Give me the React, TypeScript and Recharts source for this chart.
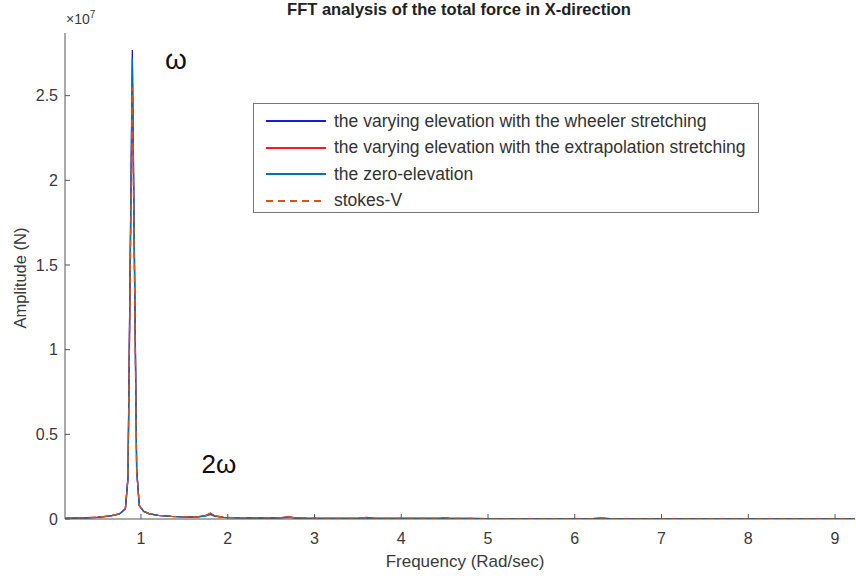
import { LineChart, Line, XAxis, YAxis } from 'recharts'

// frequency grid (rad/s) and FFT amplitudes in units of 1e7 N
const freqs = [
  0.124, 0.3, 0.5, 0.65, 0.75, 0.82, 0.85, 0.9, 0.95, 0.98, 1.03, 1.1, 1.2, 1.35, 1.5, 1.65,
  1.75, 1.8, 1.85, 1.95, 2.1, 2.3, 2.5, 2.62, 2.7, 2.78, 2.9, 3.1, 3.3, 3.5, 3.6, 3.7,
  3.9, 4.1, 4.3, 4.45, 4.5, 4.55, 4.8, 5.0, 5.2, 5.4, 5.6, 5.8, 6.0, 6.2, 6.3, 6.4,
  6.6, 6.8, 7.0, 7.2, 7.4, 7.6, 7.8, 8.0, 8.2, 8.4, 8.6, 8.8, 9.0, 9.23,
]
const wheeler = [
  0.004, 0.006, 0.01, 0.018, 0.03, 0.06, 0.25, 2.77, 0.3, 0.08, 0.045, 0.03, 0.022, 0.016, 0.012, 0.012,
  0.02, 0.032, 0.018, 0.01, 0.008, 0.007, 0.006, 0.008, 0.012, 0.007, 0.005, 0.004, 0.004, 0.004, 0.008, 0.004,
  0.003, 0.003, 0.003, 0.004, 0.006, 0.004, 0.003, 0.002, 0.002, 0.002, 0.002, 0.002, 0.002, 0.002, 0.005, 0.002,
  0.002, 0.002, 0.002, 0.002, 0.002, 0.002, 0.002, 0.002, 0.002, 0.002, 0.002, 0.002, 0.002, 0.002,
]
const extrapolation = [
  0.004, 0.006, 0.011, 0.019, 0.03, 0.06, 0.24, 2.6, 0.29, 0.08, 0.046, 0.031, 0.022, 0.016, 0.012, 0.013,
  0.021, 0.034, 0.019, 0.01, 0.008, 0.007, 0.006, 0.008, 0.013, 0.007, 0.005, 0.004, 0.004, 0.004, 0.009, 0.004,
  0.003, 0.003, 0.003, 0.004, 0.007, 0.004, 0.003, 0.002, 0.002, 0.002, 0.002, 0.002, 0.002, 0.002, 0.005, 0.002,
  0.002, 0.002, 0.002, 0.002, 0.002, 0.002, 0.002, 0.002, 0.002, 0.002, 0.002, 0.002, 0.002, 0.002,
]
const zeroElevation = [
  0.004, 0.006, 0.01, 0.018, 0.029, 0.058, 0.24, 2.72, 0.29, 0.078, 0.044, 0.029, 0.021, 0.015, 0.011, 0.011,
  0.018, 0.026, 0.016, 0.009, 0.007, 0.006, 0.005, 0.007, 0.01, 0.006, 0.004, 0.004, 0.003, 0.003, 0.007, 0.003,
  0.003, 0.003, 0.003, 0.003, 0.005, 0.003, 0.002, 0.002, 0.002, 0.002, 0.002, 0.002, 0.002, 0.002, 0.004, 0.002,
  0.002, 0.002, 0.002, 0.002, 0.002, 0.002, 0.002, 0.002, 0.002, 0.002, 0.002, 0.002, 0.002, 0.002,
]
const stokes = [
  0.004, 0.006, 0.011, 0.019, 0.031, 0.062, 0.24, 2.55, 0.28, 0.08, 0.046, 0.031, 0.022, 0.016, 0.012, 0.013,
  0.022, 0.036, 0.02, 0.011, 0.008, 0.007, 0.006, 0.008, 0.013, 0.007, 0.005, 0.004, 0.004, 0.004, 0.009, 0.004,
  0.003, 0.003, 0.003, 0.004, 0.007, 0.004, 0.003, 0.002, 0.002, 0.002, 0.002, 0.002, 0.002, 0.002, 0.005, 0.002,
  0.002, 0.002, 0.002, 0.002, 0.002, 0.002, 0.002, 0.002, 0.002, 0.002, 0.002, 0.002, 0.002, 0.002,
]
const xTicks = [1, 2, 3, 4, 5, 6, 7, 8, 9]
const yTicks = [0, 0.5, 1, 1.5, 2, 2.5]

const SERIES = [
  { key: 'wheeler', name: 'the varying elevation with the wheeler stretching', color: '#1a1ad6', dash: undefined },
  { key: 'extrapolation', name: 'the varying elevation with the extrapolation stretching', color: '#ff1a1a', dash: undefined },
  { key: 'zero', name: 'the zero-elevation', color: '#0072bd', dash: undefined },
  { key: 'stokes', name: 'stokes-V', color: '#d95319', dash: '7 5' },
]

const rows = freqs.map((f, i) => ({
  f,
  wheeler: wheeler[i],
  extrapolation: extrapolation[i],
  zero: zeroElevation[i],
  stokes: stokes[i],
}))

const FONT = '"Liberation Sans", Arial, sans-serif'
const AXIS = '#555'
const TEXT = '#3a3a3a'

function LegendBox() {
  return (
    <div style={{
      position: 'absolute', left: 253, top: 103, width: 506, height: 110,
      border: '1px solid #777', background: '#fff', padding: '4px 0 0 11px',
      fontSize: 17.5, color: '#333', boxSizing: 'border-box',
    }}>
      {SERIES.map(s => (
        <div key={s.key} style={{ display: 'flex', alignItems: 'center', height: 26.5, whiteSpace: 'nowrap' }}>
          <svg width={62} height={10} style={{ marginRight: 7 }}>
            <line x1={1} y1={5} x2={61} y2={5} stroke={s.color} strokeWidth={2} strokeDasharray={s.dash} />
          </svg>
          <span>{s.name}</span>
        </div>
      ))}
    </div>
  )
}

export default function App() {
  return (
    <div style={{ position: 'absolute', left: 0, top: 0, width: 856, height: 576, background: '#fff', fontFamily: FONT }}>
      <LineChart width={856} height={576} data={rows} margin={{ top: 33, right: 1, bottom: 0, left: 0 }}>
        <XAxis
          dataKey="f"
          type="number"
          domain={[0.124, 9.23]}
          ticks={xTicks}
          allowDataOverflow
          height={57}
          stroke={AXIS}
          tickSize={-5}
          tickMargin={19}
          tick={{ fill: TEXT, fontSize: 16, fontFamily: FONT }}
        />
        <YAxis
          type="number"
          domain={[0, 2.87]}
          ticks={yTicks}
          allowDataOverflow
          width={65}
          stroke={AXIS}
          tickSize={-5}
          tickMargin={12}
          tick={{ fill: TEXT, fontSize: 16, fontFamily: FONT }}
        />
        {SERIES.map(s => (
          <Line
            key={s.key}
            type="linear"
            dataKey={s.key}
            name={s.name}
            stroke={s.color}
            strokeWidth={1.3}
            strokeDasharray={s.dash}
            dot={false}
            isAnimationActive={false}
          />
        ))}
      </LineChart>

      <LegendBox />

      <div style={{ position: 'absolute', left: 0, width: 918, top: 0, textAlign: 'center', fontWeight: 'bold', fontSize: 16.5, color: '#222' }}>
        FFT analysis of the total force in X-direction
      </div>
      <div style={{ position: 'absolute', left: 66, top: 9, fontSize: 14, color: TEXT }}>
        ×10<sup style={{ fontSize: 10 }}>7</sup>
      </div>
      <div style={{
        position: 'absolute', left: 20, top: 278, transform: 'translate(-50%, -50%) rotate(-90deg)',
        fontSize: 16.5, color: TEXT, whiteSpace: 'nowrap',
      }}>
        Amplitude (N)
      </div>
      <div style={{ position: 'absolute', left: 465, top: 562, transform: 'translate(-50%, -50%)', fontSize: 17, color: TEXT, whiteSpace: 'nowrap' }}>
        Frequency (Rad/sec)
      </div>
      <div style={{ position: 'absolute', left: 176, top: 60, transform: 'translate(-50%, -50%)', fontSize: 28, color: '#111' }}>
        ω
      </div>
      <div style={{ position: 'absolute', left: 219, top: 464, transform: 'translate(-50%, -50%)', fontSize: 26, color: '#111' }}>
        2ω
      </div>
    </div>
  )
}
